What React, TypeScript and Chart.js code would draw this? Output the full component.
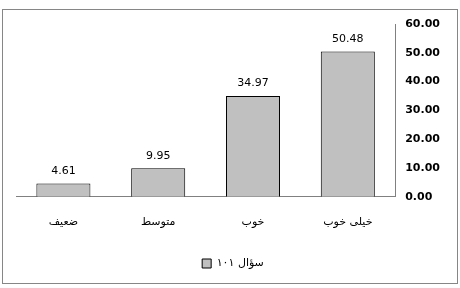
import React, { useEffect, useRef } from "react";
import { Chart, registerables } from "chart.js";

Chart.register(...registerables);

const categories = ["خیلی خوب", "خوب", "متوسط", "ضعیف"];
const values = [50.48, 34.97, 9.95, 4.61];
const seriesName = "سؤال ۱۰۱";
const yTicks = [0, 10, 20, 30, 40, 50, 60];

const FONT = "'DejaVu Sans', Tahoma, sans-serif";

const frame = {
  id: "frame",
  afterDraw(chart: any) {
    const ctx = chart.ctx;
    ctx.save();
    ctx.strokeStyle = "#868686";
    ctx.lineWidth = 1;
    ctx.strokeRect(2.5, 9.5, 455, 274);
    ctx.restore();
  },
};

const valueLabels = {
  id: "valueLabels",
  afterDatasetsDraw(chart: any) {
    const ctx = chart.ctx;
    const meta = chart.getDatasetMeta(0);
    ctx.save();
    ctx.font = `11px ${FONT}`;
    ctx.fillStyle = "#000";
    ctx.textAlign = "center";
    ctx.textBaseline = "bottom";
    meta.data.forEach((el: any, i: number) => {
      const v = chart.data.datasets[0].data[i] as number;
      ctx.fillText(v.toFixed(2), el.x, el.y - 7);
    });
    ctx.restore();
  },
};

export default function App() {
  const ref = useRef<HTMLCanvasElement | null>(null);
  useEffect(() => {
    if (!ref.current) return;
    const chart = new Chart(ref.current, {
      type: "bar",
      data: {
        labels: categories,
        datasets: [
          {
            label: seriesName,
            data: values,
            backgroundColor: "#C0C0C0",
            borderColor: "#000000",
            borderWidth: 1,
            barPercentage: 0.57,
            categoryPercentage: 1,
          },
        ],
      },
      options: {
        animation: false,
        responsive: false,
        maintainAspectRatio: false,
        layout: { padding: { left: 16, right: 10, top: 24, bottom: 9 } },
        plugins: {
          legend: {
            position: "bottom",
            labels: {
              boxWidth: 9,
              boxHeight: 9,
              color: "#000",
              font: { family: FONT, size: 11 },
              padding: 10,
              generateLabels: (c: any) => [
                {
                  text: seriesName,
                  fillStyle: "#C0C0C0",
                  strokeStyle: "#000",
                  lineWidth: 1,
                  hidden: false,
                  datasetIndex: 0,
                },
              ],
            },
          },
          tooltip: { enabled: false },
        },
        scales: {
          x: {
            reverse: true,
            offset: true,
            grid: { display: false, drawTicks: false },
            border: { display: true, color: "#808080", width: 1 },
            ticks: {
              color: "#000",
              font: { family: FONT, size: 11 },
              padding: 19,
            },
          },
          y: {
            position: "right",
            min: 0,
            max: 60,
            afterBuildTicks: (s: any) => {
              s.ticks = yTicks.map((v) => ({ value: v }));
            },
            grid: { display: false, drawTicks: false },
            border: { display: true, color: "#808080", width: 1 },
            ticks: {
              color: "#000",
              font: { family: FONT, size: 11, weight: "bold" },
              padding: 10,
              callback: (v: any) => Number(v).toFixed(2),
            },
          },
        },
      },
      plugins: [frame, valueLabels],
    });
    return () => chart.destroy();
  }, []);
  return (
    <div style={{ position: "absolute", left: 0, top: 0, width: 460, height: 288, background: "#fff" }}>
      <canvas ref={ref} width={460} height={288} />
    </div>
  );
}
